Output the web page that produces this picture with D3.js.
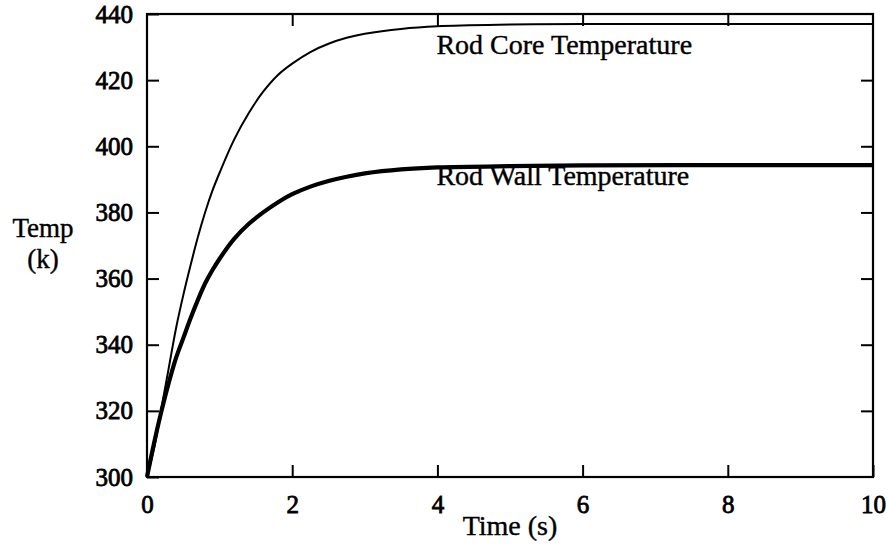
<!DOCTYPE html>
<html>
<head>
<meta charset="utf-8">
<script src="https://cdn.jsdelivr.net/npm/d3@7"></script>
<style>
  html, body { margin: 0; padding: 0; background: #fff; }
  svg { display: block; }
  text { font-family: "Liberation Serif", "Times New Roman", serif; fill: #000; }
</style>
</head>
<body>
<svg id="chart" width="887" height="554"></svg>
<script>
// ---- data ----
const timeCore = [0, 0.1, 0.2, 0.3, 0.4, 0.5, 0.6, 0.7, 0.8, 0.9, 1.0, 1.2, 1.4, 1.6, 1.8, 2.0, 2.25, 2.5, 2.75, 3.0, 3.5, 4, 5, 6, 8, 10];
const coreTemp = [300, 309, 321, 333, 345, 355, 364, 372.5, 380, 386.5, 392, 402, 410, 416.5, 421.5, 425, 428.5, 431, 432.8, 434, 435.5, 436.3, 436.8, 437, 437, 437];
const timeWall = [0, 0.1, 0.2, 0.3, 0.4, 0.5, 0.6, 0.7, 0.8, 0.9, 1.0, 1.2, 1.4, 1.6, 1.8, 2.0, 2.25, 2.5, 2.75, 3.0, 3.5, 4, 5, 6, 8, 10];
const wallTemp = [300, 310.5, 320, 328.5, 336, 342, 348, 353.5, 358.5, 362.5, 366, 372, 376.5, 380, 383, 385.5, 387.8, 389.5, 390.8, 391.8, 393, 393.6, 394, 394.2, 394.3, 394.3];
const xTicks = [0, 2, 4, 6, 8, 10];
const yTicks = [300, 320, 340, 360, 380, 400, 420, 440];
const seriesNames = ["Rod Core Temperature", "Rod Wall Temperature"];
const labelAnchors = [[4, 428], [4, 388.3]]; // data coords of the in-plot labels
const xTitle = "Time (s)";
const yTitle = ["Temp", "(k)"];

// ---- layout ----
const svg = d3.select("#chart");
const mL = 147, mR = 873, mT = 14, mB = 477;
const x = d3.scaleLinear().domain([0, 10]).range([mL, mR]);
const y = d3.scaleLinear().domain([300, 440]).range([mB, mT]);
const tickLen = 12;
const fs = 25;

function styleAxis(g) {
  g.select(".domain").remove();
  g.selectAll(".tick line").attr("stroke", "#000").attr("stroke-width", 2);
  g.selectAll(".tick text").attr("font-size", fs).attr("font-family", "Liberation Serif")
    .attr("stroke", "#000").attr("stroke-width", 0.8);
}

svg.append("g").attr("transform", `translate(0,${mB})`)
  .call(d3.axisBottom(x).tickValues(xTicks).tickSizeInner(-tickLen).tickSizeOuter(0).tickPadding(18).tickFormat(d3.format("d")))
  .call(styleAxis);
svg.append("g").attr("transform", `translate(0,${mT})`)
  .call(d3.axisTop(x).tickValues(xTicks.slice(1, -1)).tickSizeInner(-tickLen).tickSizeOuter(0).tickFormat(""))
  .call(styleAxis);
svg.append("g").attr("transform", `translate(${mL},0)`)
  .call(d3.axisLeft(y).tickValues(yTicks).tickSizeInner(-tickLen).tickSizeOuter(0).tickPadding(14).tickFormat(d3.format("d")))
  .call(styleAxis);
svg.append("g").attr("transform", `translate(${mR},0)`)
  .call(d3.axisRight(y).tickValues(yTicks.slice(1, -1)).tickSizeInner(-tickLen).tickSizeOuter(0).tickFormat(""))
  .call(styleAxis);

// frame
svg.append("rect").attr("x", mL).attr("y", mT)
  .attr("width", mR - mL).attr("height", mB - mT)
  .attr("fill", "none").attr("stroke", "#000").attr("stroke-width", 2.2);

// curves
const line = d3.line().x(d => x(d[0])).y(d => y(d[1])).curve(d3.curveCatmullRom.alpha(0.5));
svg.append("path").datum(timeCore.map((t, i) => [t, coreTemp[i]]))
  .attr("d", line).attr("fill", "none").attr("stroke", "#000").attr("stroke-width", 2);
svg.append("path").datum(timeWall.map((t, i) => [t, wallTemp[i]]))
  .attr("d", line).attr("fill", "none").attr("stroke", "#000").attr("stroke-width", 4.2);

// in-plot labels
seriesNames.forEach((s, i) => {
  svg.append("text").attr("x", x(labelAnchors[i][0]) - 1).attr("y", y(labelAnchors[i][1]))
    .attr("font-size", 28).attr("stroke", "#000").attr("stroke-width", 0.4).text(s);
});

// axis titles
svg.append("text").attr("x", (mL + mR) / 2).attr("y", 535)
  .attr("text-anchor", "middle").attr("font-size", 28).attr("stroke", "#000").attr("stroke-width", 0.4).text(xTitle);
yTitle.forEach((t, i) => {
  svg.append("text").attr("x", 43).attr("y", 237 + i * 31)
    .attr("text-anchor", "middle").attr("font-size", 27).attr("stroke", "#000").attr("stroke-width", 0.4).text(t);
});
</script>
</body>
</html>
